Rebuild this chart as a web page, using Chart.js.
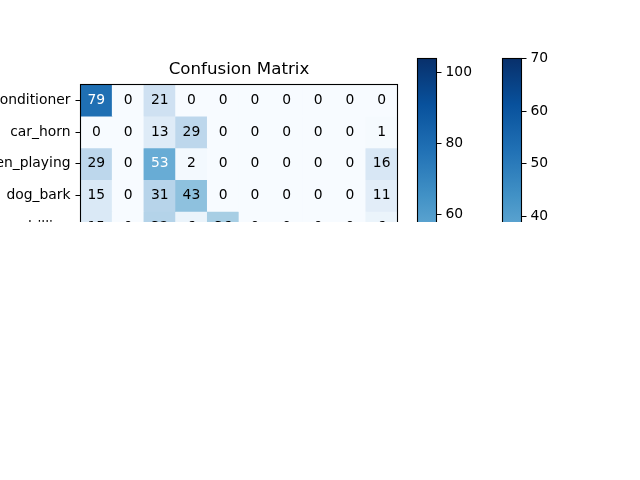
<!DOCTYPE html>
<html>
<head>
<meta charset="utf-8">
<script src="https://cdn.jsdelivr.net/npm/chart.js@4.4.1/dist/chart.umd.min.js"></script>
<style>
  html, body { margin: 0; padding: 0; background: #ffffff; }
  #wrap { position: relative; width: 640px; height: 222px; overflow: hidden; background: #fff; }
  #wrap canvas { position: absolute; left: 0; top: 0; }
</style>
</head>
<body>
<div id="wrap">
  <canvas id="cm" width="640" height="480"></canvas>
  <canvas id="cb1" width="640" height="480"></canvas>
  <canvas id="cb2" width="640" height="480"></canvas>
</div>
<script>
// ---- data ----
const classes = ['air_conditioner', 'car_horn', 'children_playing', 'dog_bark', 'drilling',
                 'engine_idling', 'gun_shot', 'jackhammer', 'siren', 'street_music'];
const rowAirConditioner   = [79, 0, 21, 0, 0, 0, 0, 0, 0, 0];
const rowCarHorn          = [0, 0, 13, 29, 0, 0, 0, 0, 0, 1];
const rowChildrenPlaying  = [29, 0, 53, 2, 0, 0, 0, 0, 0, 16];
const rowDogBark          = [15, 0, 31, 43, 0, 0, 0, 0, 0, 11];
const rowDrilling         = [15, 0, 32, 6, 36, 0, 0, 0, 0, 6];
const matrixRows = [rowAirConditioner, rowCarHorn, rowChildrenPlaying, rowDogBark, rowDrilling];
const matrixMax = 104;          // colour scale top of the matrix / first colour bar
const colorbar1Ticks = [0, 20, 40, 60, 80, 100];
const colorbar2Max = 70;
const colorbar2Ticks = [0, 10, 20, 30, 40, 50, 60, 70];

// ---- matplotlib "Blues" colormap ----
const bluesStops = [
  [247,251,255],[222,235,247],[198,219,239],[158,202,225],[107,174,214],
  [66,146,198],[33,113,181],[8,81,156],[8,48,107]
];
function blues(t) {
  t = Math.max(0, Math.min(1, t));
  const p = t * 8, i = Math.min(7, Math.floor(p)), f = p - i;
  const a = bluesStops[i], b = bluesStops[i + 1];
  const c = a.map((v, k) => Math.round(v + (b[k] - v) * f));
  return `rgb(${c[0]},${c[1]},${c[2]})`;
}

Chart.defaults.font.family = "'DejaVu Sans', sans-serif";
Chart.defaults.color = '#000';
Chart.defaults.animation = false;

const TICK_FONT = { family: "'DejaVu Sans', sans-serif", size: 13.89 };

const framePlugin = {
  id: 'frame',
  afterDraw(chart) {
    const a = chart.chartArea, ctx = chart.ctx;
    ctx.save();
    ctx.strokeStyle = '#000';
    ctx.lineWidth = 1.1;
    ctx.strokeRect(a.left, a.top, a.right - a.left, a.bottom - a.top);
    ctx.restore();
  }
};

const cellTextPlugin = {
  id: 'cellText',
  afterDatasetsDraw(chart) {
    const ctx = chart.ctx;
    ctx.save();
    ctx.font = `${TICK_FONT.size}px ${TICK_FONT.family}`;
    ctx.textAlign = 'center';
    ctx.textBaseline = 'middle';
    chart.data.datasets.forEach((ds, di) => {
      const meta = chart.getDatasetMeta(di);
      meta.data.forEach((el, ci) => {
        const v = ds.values[ci];
        const p = el.getCenterPoint();
        ctx.fillStyle = v > matrixMax / 2 ? '#ffffff' : '#000000';
        ctx.fillText(String(v), p.x, p.y);
      });
    });
    ctx.restore();
  }
};

// ---- confusion matrix ----
new Chart(document.getElementById('cm'), {
  type: 'bar',
  data: {
    labels: classes,
    datasets: matrixRows.map((vals, r) => ({
      label: classes[r],
      values: vals,
      data: vals.map(() => [r - 0.5, r + 0.5]),
      backgroundColor: vals.map(v => blues(v / matrixMax)),
      borderWidth: 0,
      barPercentage: 1,
      categoryPercentage: 1,
      grouped: false
    }))
  },
  options: {
    responsive: false,
    animation: false,
    layout: { padding: { left: 0, right: 242.5, top: 0, bottom: 0 } },
    plugins: {
      legend: { display: false },
      tooltip: { enabled: false },
      title: {
        display: true,
        text: 'Confusion Matrix',
        fullSize: false,
        color: '#000',
        font: { family: "'DejaVu Sans', sans-serif", size: 16.67, weight: 'normal', lineHeight: 1.2 },
        padding: { top: 59.5, bottom: 5 }
      }
    },
    scales: {
      x: {
        type: 'category',
        offset: true,
        grid: { display: true, drawOnChartArea: false, tickLength: 5, color: '#000' },
        border: { display: true, color: '#000' },
        ticks: { font: TICK_FONT, color: '#000', maxRotation: 45, minRotation: 45, padding: 5 },
        afterFit(s) { s.height = 78.5; }
      },
      y: {
        type: 'linear',
        reverse: true,
        min: -0.5,
        max: 9.5,
        afterBuildTicks(s) { s.ticks = classes.map((_, i) => ({ value: i })); },
        grid: { display: true, drawOnChartArea: false, tickLength: 5, color: '#000' },
        border: { display: true, color: '#000' },
        ticks: { font: TICK_FONT, color: '#000', padding: 5, autoSkip: false,
                 callback: v => classes[v] },
        afterFit(s) { s.width = 80.5; }
      }
    }
  },
  plugins: [cellTextPlugin, framePlugin]
});

// ---- colour bars ----
function makeColorbar(id, vmax, tickValues, left, right) {
  new Chart(document.getElementById(id), {
    type: 'bar',
    data: {
      labels: [''],
      datasets: [{
        data: [[0, vmax]],
        borderWidth: 0,
        barPercentage: 1,
        categoryPercentage: 1,
        inflateAmount: 0,
        backgroundColor(ctx) {
          const chart = ctx.chart, y = chart.scales.y;
          if (!chart.chartArea || !y) return blues(0.5);
          const g = chart.ctx.createLinearGradient(0, y.getPixelForValue(0), 0, y.getPixelForValue(vmax));
          bluesStops.forEach((c, i) => g.addColorStop(i / 8, `rgb(${c[0]},${c[1]},${c[2]})`));
          return g;
        }
      }]
    },
    options: {
      responsive: false,
      animation: false,
      layout: { padding: { left: left, right: 0, top: 58.5, bottom: 53.5 } },
      plugins: { legend: { display: false }, tooltip: { enabled: false } },
      scales: {
        x: { display: false, offset: true, grid: { offset: true } },
        y: {
          position: 'right',
          min: 0,
          max: vmax,
          afterBuildTicks(s) { s.ticks = tickValues.map(v => ({ value: v })); },
          grid: { display: true, drawOnChartArea: false, tickLength: 5, color: '#000' },
          border: { display: false },
          ticks: { font: TICK_FONT, color: '#000', padding: 4 },
          afterFit(s) { s.width = 640 - right; }
        }
      }
    },
    plugins: [framePlugin]
  });
}
makeColorbar('cb1', matrixMax, colorbar1Ticks, 417.5, 436.5);
makeColorbar('cb2', colorbar2Max, colorbar2Ticks, 502.5, 521.5);
</script>
</body>
</html>
